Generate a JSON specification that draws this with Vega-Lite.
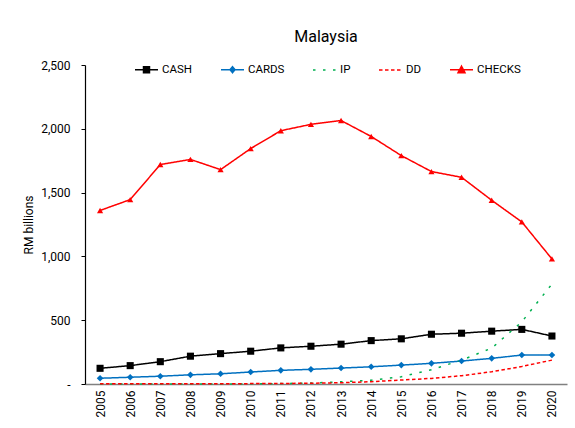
{
  "$schema": "https://vega.github.io/schema/vega-lite/v6.json",
  "width": 482,
  "height": 319,
  "padding": {"left": 22, "top": 29, "right": 3, "bottom": 2},
  "background": "white",
  "config": {
    "font": "Roboto",
    "view": {"stroke": null},
    "axis": {"labelFont": "Roboto", "titleFont": "Roboto", "labelColor": "black", "titleColor": "black", "grid": false},
    "legend": {"labelFont": "Roboto"}
  },
  "title": {"text": "Malaysia", "fontSize": 16, "font": "Roboto", "fontWeight": "normal", "color": "black", "anchor": "middle", "offset": 12},
  "data": {"values": [
    {"year": "2005", "series": "CASH", "value": 123}, {"year": "2006", "series": "CASH", "value": 144}, {"year": "2007", "series": "CASH", "value": 175}, {"year": "2008", "series": "CASH", "value": 218}, {"year": "2009", "series": "CASH", "value": 238}, {"year": "2010", "series": "CASH", "value": 257}, {"year": "2011", "series": "CASH", "value": 283}, {"year": "2012", "series": "CASH", "value": 296}, {"year": "2013", "series": "CASH", "value": 312}, {"year": "2014", "series": "CASH", "value": 340}, {"year": "2015", "series": "CASH", "value": 354}, {"year": "2016", "series": "CASH", "value": 390}, {"year": "2017", "series": "CASH", "value": 398}, {"year": "2018", "series": "CASH", "value": 414}, {"year": "2019", "series": "CASH", "value": 428}, {"year": "2020", "series": "CASH", "value": 376},
    {"year": "2005", "series": "CARDS", "value": 45}, {"year": "2006", "series": "CARDS", "value": 53}, {"year": "2007", "series": "CARDS", "value": 61}, {"year": "2008", "series": "CARDS", "value": 72}, {"year": "2009", "series": "CARDS", "value": 80}, {"year": "2010", "series": "CARDS", "value": 94}, {"year": "2011", "series": "CARDS", "value": 107}, {"year": "2012", "series": "CARDS", "value": 115}, {"year": "2013", "series": "CARDS", "value": 125}, {"year": "2014", "series": "CARDS", "value": 135}, {"year": "2015", "series": "CARDS", "value": 148}, {"year": "2016", "series": "CARDS", "value": 162}, {"year": "2017", "series": "CARDS", "value": 180}, {"year": "2018", "series": "CARDS", "value": 201}, {"year": "2019", "series": "CARDS", "value": 227}, {"year": "2020", "series": "CARDS", "value": 227},
    {"year": "2005", "series": "IP", "value": 0}, {"year": "2006", "series": "IP", "value": 0}, {"year": "2007", "series": "IP", "value": 0}, {"year": "2008", "series": "IP", "value": 0}, {"year": "2009", "series": "IP", "value": 0}, {"year": "2010", "series": "IP", "value": 1}, {"year": "2011", "series": "IP", "value": 3}, {"year": "2012", "series": "IP", "value": 8}, {"year": "2013", "series": "IP", "value": 17}, {"year": "2014", "series": "IP", "value": 30}, {"year": "2015", "series": "IP", "value": 57}, {"year": "2016", "series": "IP", "value": 112}, {"year": "2017", "series": "IP", "value": 187}, {"year": "2018", "series": "IP", "value": 281}, {"year": "2019", "series": "IP", "value": 487}, {"year": "2020", "series": "IP", "value": 783},
    {"year": "2005", "series": "DD", "value": 1}, {"year": "2006", "series": "DD", "value": 1}, {"year": "2007", "series": "DD", "value": 1}, {"year": "2008", "series": "DD", "value": 2}, {"year": "2009", "series": "DD", "value": 2}, {"year": "2010", "series": "DD", "value": 3}, {"year": "2011", "series": "DD", "value": 4}, {"year": "2012", "series": "DD", "value": 6}, {"year": "2013", "series": "DD", "value": 10}, {"year": "2014", "series": "DD", "value": 18}, {"year": "2015", "series": "DD", "value": 31}, {"year": "2016", "series": "DD", "value": 44}, {"year": "2017", "series": "DD", "value": 65}, {"year": "2018", "series": "DD", "value": 96}, {"year": "2019", "series": "DD", "value": 137}, {"year": "2020", "series": "DD", "value": 187},
    {"year": "2005", "series": "CHECKS", "value": 1360}, {"year": "2006", "series": "CHECKS", "value": 1445}, {"year": "2007", "series": "CHECKS", "value": 1720}, {"year": "2008", "series": "CHECKS", "value": 1760}, {"year": "2009", "series": "CHECKS", "value": 1680}, {"year": "2010", "series": "CHECKS", "value": 1845}, {"year": "2011", "series": "CHECKS", "value": 1985}, {"year": "2012", "series": "CHECKS", "value": 2035}, {"year": "2013", "series": "CHECKS", "value": 2065}, {"year": "2014", "series": "CHECKS", "value": 1940}, {"year": "2015", "series": "CHECKS", "value": 1790}, {"year": "2016", "series": "CHECKS", "value": 1665}, {"year": "2017", "series": "CHECKS", "value": 1620}, {"year": "2018", "series": "CHECKS", "value": 1440}, {"year": "2019", "series": "CHECKS", "value": 1270}, {"year": "2020", "series": "CHECKS", "value": 980}
  ]},
  "encoding": {
    "x": {"field": "year", "type": "ordinal", "scale": {"type": "point", "padding": 0.5},
      "axis": {"title": null, "labelAngle": -90, "labelAlign": "right", "labelBaseline": "middle", "labelFontSize": 12, "labelPadding": 6, "ticks": false, "domainColor": "#808080", "domainWidth": 1.5}},
    "y": {"field": "value", "type": "quantitative", "scale": {"domain": [0, 2500]},
      "axis": {"title": "RM billions", "titleFontSize": 12, "titleFontWeight": "normal", "titlePadding": 5, "values": [0, 500, 1000, 1500, 2000, 2500], "labelExpr": "datum.value == 0 ? '-' : format(datum.value, ',')", "labelFontSize": 12, "labelPadding": 11, "tickSize": 4, "tickColor": "black", "domainColor": "black", "domainWidth": 1.2}}
  },
  "layer": [
    {
      "mark": {"type": "line", "strokeWidth": 1.5},
      "encoding": {
        "color": {"field": "series", "type": "nominal",
          "scale": {"domain": ["CASH", "CARDS", "IP", "DD", "CHECKS"], "range": ["#000000", "#0070C0", "#00B050", "#FF0000", "#FF0000"]},
          "legend": {"title": null, "orient": "none", "legendX": 49, "legendY": -8, "direction": "horizontal", "columnPadding": 25, "labelFontSize": 11.5, "labelColor": "black", "symbolSize": 529, "symbolStrokeWidth": 1.5, "labelOffset": 3,
            "encode": {"symbols": {"update": {
              "shape": {"signal": "datum.value == 'CASH' ? 'M-1,0H1M-0.26,-0.26H0.26V0.26H-0.26Z' : datum.value == 'CARDS' ? 'M-1,0H1M0,-0.26L0.22,0L0,0.26L-0.22,0Z' : datum.value == 'CHECKS' ? 'M-1,0H1M0,-0.32L0.3,0.24H-0.3Z' : 'M-1,0H1'"},
              "fill": {"signal": "datum.value == 'IP' || datum.value == 'DD' ? 'transparent' : scale('color', datum.value)"}
            }}}}},
        "strokeDash": {"field": "series", "type": "nominal",
          "scale": {"domain": ["CASH", "CARDS", "IP", "DD", "CHECKS"], "range": [[1, 0], [1, 0], [2.5, 7.5], [3.5, 2.5], [1, 0]]}},
        "strokeWidth": {"field": "series", "type": "nominal", "legend": null,
          "scale": {"domain": ["CASH", "CARDS", "IP", "DD", "CHECKS"], "range": [1.5, 1.5, 2.5, 1.5, 1.3]}}
      }
    },
    {
      "transform": [{"filter": "datum.series == 'CASH' || datum.series == 'CARDS' || datum.series == 'CHECKS'"}],
      "mark": {"type": "point", "filled": true, "opacity": 1},
      "encoding": {
        "color": {"field": "series", "type": "nominal"},
        "shape": {"field": "series", "type": "nominal", "legend": null,
          "scale": {"domain": ["CASH", "CARDS", "CHECKS"], "range": ["square", "diamond", "triangle-up"]}},
        "size": {"field": "series", "type": "nominal", "legend": null,
          "scale": {"domain": ["CASH", "CARDS", "CHECKS"], "range": [50, 38, 55]}}
      }
    }
  ]
}
